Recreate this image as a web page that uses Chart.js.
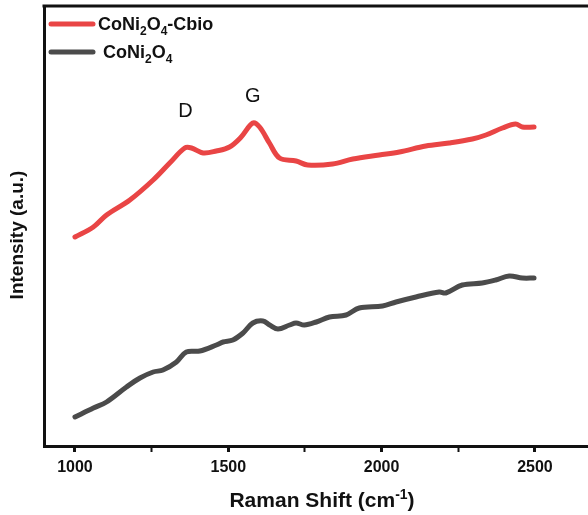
<!DOCTYPE html>
<html>
<head>
<meta charset="utf-8">
<script src="https://cdn.jsdelivr.net/npm/chart.js@4"></script>
<style>
  html, body { margin: 0; padding: 0; background: #fff; }
  #wrap { width: 588px; height: 515px; position: relative; }
</style>
</head>
<body>
<div id="wrap"><canvas id="ramanChart"></canvas></div>
<script>
// Raman spectra, values (a.u.)
const cbioShift = [1000, 1060, 1103, 1179, 1255, 1309, 1358, 1380, 1418, 1461, 1504, 1542, 1580, 1602, 1634, 1667, 1721, 1759, 1840, 1906, 1992, 2058, 2144, 2220, 2296, 2340, 2394, 2437, 2459, 2497];
const cbioIntensity = [209, 219, 231, 246, 266, 283, 298, 298, 293, 295, 299, 309, 323, 319, 303, 288, 285, 281, 282, 287, 291, 294, 300, 303, 307, 311, 318, 322, 319, 319];

const bareShift = [1000, 1060, 1103, 1168, 1212, 1255, 1287, 1331, 1363, 1407, 1461, 1483, 1515, 1548, 1580, 1613, 1635, 1662, 1700, 1721, 1748, 1787, 1830, 1884, 1927, 2003, 2047, 2112, 2188, 2209, 2263, 2328, 2372, 2416, 2459, 2497];
const bareIntensity = [29, 38, 44, 59, 68, 74, 76, 84, 94, 95, 101, 104, 106, 113, 123, 125, 121, 117, 121, 123, 121, 124, 129, 131, 138, 140, 144, 149, 154, 153, 161, 163, 166, 170, 168, 168];

const xTicks = [1000, 1250, 1500, 1750, 2000, 2250, 2500];
const bandLabels = ['D', 'G'];
const bandShift = [1360, 1580];

const RED = '#e94545';
const GREY = '#4b4b4b';
const FONT = '"Liberation Sans", Arial, sans-serif';

function toPoints(xs, ys) {
  return xs.map((x, i) => ({ x: x, y: ys[i] }));
}

// text with subscript / superscript pieces: [text, shift]
function drawRich(ctx, parts, x, y, size) {
  let cx = x;
  parts.forEach(p => {
    const small = p[1] !== 0;
    ctx.font = 'bold ' + (small ? Math.round(size * 0.68) : size) + 'px ' + FONT;
    ctx.fillText(p[0], cx, y + p[1]);
    cx += ctx.measureText(p[0]).width;
  });
  return cx - x;
}

function richWidth(ctx, parts, size) {
  let w = 0;
  parts.forEach(p => {
    ctx.font = 'bold ' + (p[1] !== 0 ? Math.round(size * 0.68) : size) + 'px ' + FONT;
    w += ctx.measureText(p[0]).width;
  });
  return w;
}

const decorations = {
  id: 'decorations',
  afterDraw(chart) {
    const ctx = chart.ctx;
    const area = chart.chartArea;
    const xs = chart.scales.x;
    ctx.save();

    // top frame line
    ctx.strokeStyle = '#111';
    ctx.lineWidth = 3;
    ctx.beginPath();
    ctx.moveTo(area.left - 1.5, area.top);
    ctx.lineTo(chart.width, area.top);
    ctx.stroke();

    ctx.fillStyle = '#111';
    ctx.textBaseline = 'alphabetic';
    ctx.textAlign = 'left';

    // legend
    const legend = [
      { color: RED, parts: [['CoNi', 0], ['2', 5], ['O', 0], ['4', 5], ['-Cbio', 0]], y: 24, tx: 98 },
      { color: GREY, parts: [['CoNi', 0], ['2', 5], ['O', 0], ['4', 5]], y: 52, tx: 103 }
    ];
    legend.forEach(item => {
      ctx.strokeStyle = item.color;
      ctx.lineWidth = 5;
      ctx.lineCap = 'round';
      ctx.beginPath();
      ctx.moveTo(51, item.y);
      ctx.lineTo(93, item.y);
      ctx.stroke();
      ctx.fillStyle = '#111';
      drawRich(ctx, item.parts, item.tx, item.y + 6, 18);
    });

    // D / G band labels
    ctx.font = '20px ' + FONT;
    ctx.textAlign = 'center';
    ctx.textBaseline = 'middle';
    ctx.fillText(bandLabels[0], xs.getPixelForValue(bandShift[0]), 111);
    ctx.fillText(bandLabels[1], xs.getPixelForValue(bandShift[1]), 96);

    // x axis title
    ctx.textAlign = 'left';
    ctx.textBaseline = 'alphabetic';
    const xParts = [['Raman Shift (cm', 0], ['-1', -8], [')', 0]];
    const w = richWidth(ctx, xParts, 21);
    drawRich(ctx, xParts, 322 - w / 2, 507, 21);

    // y axis title
    ctx.translate(18, 235);
    ctx.rotate(-Math.PI / 2);
    ctx.font = 'bold 19px ' + FONT;
    ctx.textAlign = 'center';
    ctx.textBaseline = 'middle';
    ctx.fillText('Intensity (a.u.)', 0, 0);

    ctx.restore();
  }
};

new Chart(document.getElementById('ramanChart'), {
  type: 'line',
  data: {
    datasets: [
      {
        label: 'CoNi2O4-Cbio',
        data: toPoints(cbioShift, cbioIntensity),
        borderColor: RED,
        borderWidth: 5,
        pointRadius: 0,
        tension: 0.35,
        borderCapStyle: 'round',
        borderJoinStyle: 'round'
      },
      {
        label: 'CoNi2O4',
        data: toPoints(bareShift, bareIntensity),
        borderColor: GREY,
        borderWidth: 5,
        pointRadius: 0,
        tension: 0.35,
        borderCapStyle: 'round',
        borderJoinStyle: 'round'
      }
    ]
  },
  options: {
    responsive: true,
    maintainAspectRatio: false,
    animation: false,
    layout: { padding: { left: 44, top: 6, right: 0, bottom: 0 } },
    plugins: {
      legend: { display: false },
      tooltip: { enabled: false }
    },
    scales: {
      x: {
        type: 'linear',
        min: 899,
        max: 2673,
        afterBuildTicks: axis => { axis.ticks = xTicks.map(v => ({ value: v })); },
        border: { display: true, color: '#111', width: 3 },
        grid: {
          drawOnChartArea: false,
          drawTicks: true,
          tickLength: 6,
          tickColor: '#111',
          tickWidth: c => (c.tick && c.tick.value % 500 === 0 ? 3 : 2)
        },
        ticks: {
          autoSkip: false,
          maxRotation: 0,
          padding: 6,
          color: '#111',
          font: { family: FONT, size: 16, weight: 'bold' },
          callback: v => (v % 500 === 0 ? String(v) : '')
        },
        afterFit: axis => { axis.height = 69; }
      },
      y: {
        type: 'linear',
        min: 0,
        max: 440,
        border: { display: true, color: '#111', width: 3 },
        grid: { display: false, drawTicks: false },
        ticks: { display: false },
        afterFit: axis => { axis.width = 0; }
      }
    }
  },
  plugins: [decorations]
});
</script>
</body>
</html>
